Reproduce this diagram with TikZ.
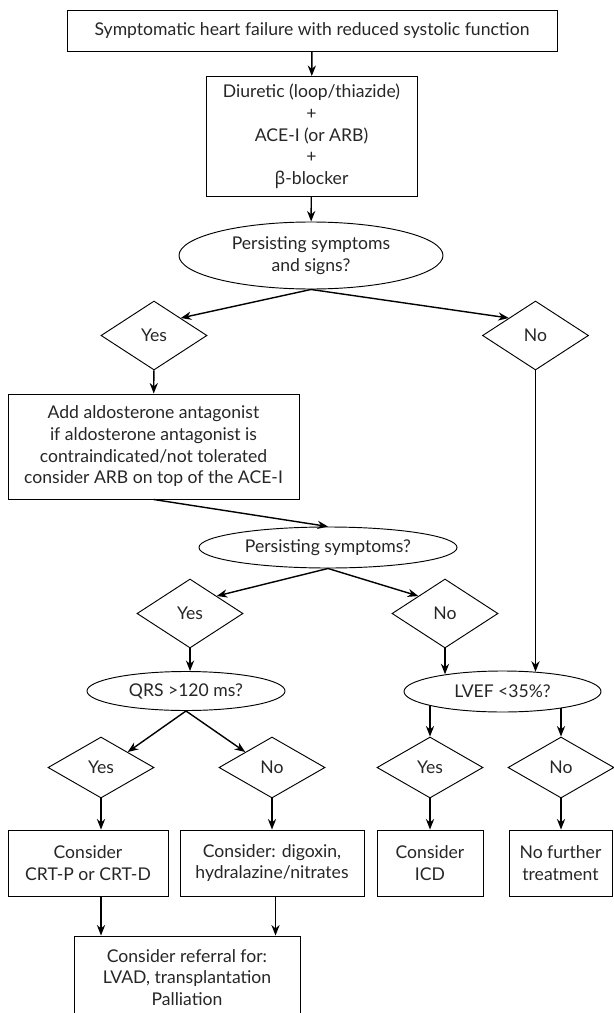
\documentclass[tikz,border=0pt]{standalone}
\usepackage{fontspec}
\setmainfont{Lato}
\newfontfamily\greekfont{Noto Sans}
\usetikzlibrary{arrows.meta,shapes.geometric}

\begin{document}
\begin{tikzpicture}[x=0.03cm,y=-0.03cm,
  font=\fontsize{15}{18.5}\selectfont,
  box/.style={draw,line width=0.8pt,align=center,inner sep=1pt,text=black!85},
  oval/.style={draw,ellipse,line width=0.8pt,align=center,inner sep=0pt,text=black!85},
  dia/.style={draw,diamond,line width=0.8pt,inner sep=0pt,minimum width=3.18cm,minimum height=2.07cm,text=black!85},
  arr/.style={-{Stealth[length=9pt,width=7pt]},line width=1.2pt}]
\useasboundingbox (0,0) rectangle (613,1013);
\node[box,minimum width=14.7cm,minimum height=1.23cm] (top) at (312,30.5) {Symptomatic heart failure with reduced systolic function};
\node[box,minimum width=6.33cm,minimum height=3.6cm] (drugs) at (311.5,136.5) {Diuretic (loop/thiazide)\\+\\ACE-I (or ARB)\\+\\{\greekfont β}-blocker};
\node[oval,minimum width=7.92cm,minimum height=2.01cm] (signs) at (311,255.5) {Persisting symptoms\\and signs?};
\node[dia] (yes1) at (154,335.5) {Yes};
\node[dia] (no1) at (535.5,335.5) {No};
\node[box,minimum width=8.73cm,minimum height=3.15cm] (aldo) at (153.5,446.5) {Add aldosterone antagonist\\if aldosterone antagonist is\\contraindicated/not tolerated\\consider ARB on top of the ACE-I};
\node[oval,minimum width=7.74cm,minimum height=1.23cm] (persist) at (328,547.5) {Persisting symptoms?};
\node[dia] (yes2) at (190,613.5) {Yes};
\node[dia] (no2) at (445,613.5) {No};
\node[oval,minimum width=5.94cm,minimum height=1.17cm] (qrs) at (186,691) {QRS >120 ms?};
\node[oval,minimum width=5.91cm,minimum height=1.23cm] (lvef) at (502.5,691.5) {LVEF <35\%?};
\node[dia,minimum height=1.83cm] (yes3) at (101,767.5) {Yes};
\node[dia,minimum height=1.83cm] (no3) at (272,767.5) {No};
\node[dia,minimum height=1.83cm] (yes4) at (430,767.5) {Yes};
\node[dia,minimum height=1.83cm] (no4) at (561,767.5) {No};
\node[box,minimum width=4.8cm,minimum height=1.98cm] (crt) at (88,863) {Consider\\CRT-P or CRT-D};
\node[box,minimum width=5.52cm,minimum height=1.98cm] (dig) at (272,863) {Consider: digoxin,\\hydralazine/nitrates};
\node[box,minimum width=3.18cm,minimum height=1.98cm] (icd) at (430,863) {Consider\\ICD};
\node[box,minimum width=3.09cm,minimum height=1.98cm] (nofurther) at (560.5,863) {No further\\treatment};
\node[box,minimum width=6.78cm,minimum height=2.49cm] (referral) at (187,977.5) {Consider referral for:\\LVAD, transplantation\\Palliation};
\draw[arr] (top) -- (drugs);
\draw[arr] (drugs) -- (signs);
\draw[arr] (signs.south) -- (yes1.north east);
\draw[arr] (signs.south) -- (no1.north west);
\draw[arr] (yes1) -- (aldo);
\draw[arr] (aldo.south) -- (persist.north);
\draw[arr] (no1.south) -- (no1.south |- lvef.31);
\draw[arr] (persist.south) -- (yes2.north east);
\draw[arr] (persist.south) -- (no2.north west);
\draw[arr] (yes2.south) -- (yes2.south |- qrs.north);
\draw[arr] (no2.south) -- (no2.south |- lvef.163);
\draw[arr] (qrs.south) -- (yes3.north east);
\draw[arr] (qrs.south) -- (no3.north west);
\draw[arr] (yes4.north |- lvef.191) -- (yes4.north);
\draw[arr] (no4.north |- lvef.344) -- (no4.north);
\draw[arr] (yes3.south) -- (yes3.south |- crt.north);
\draw[arr] (no3) -- (dig);
\draw[arr] (yes4) -- (icd);
\draw[arr] (no4.south) -- (no4.south |- nofurther.north);
\draw[arr] (yes3.south |- crt.south) -- (yes3.south |- referral.north);
\draw[arr] ([xshift=3]dig.south) -- ([xshift=3]dig.south |- referral.north);
\end{tikzpicture}
\end{document}
